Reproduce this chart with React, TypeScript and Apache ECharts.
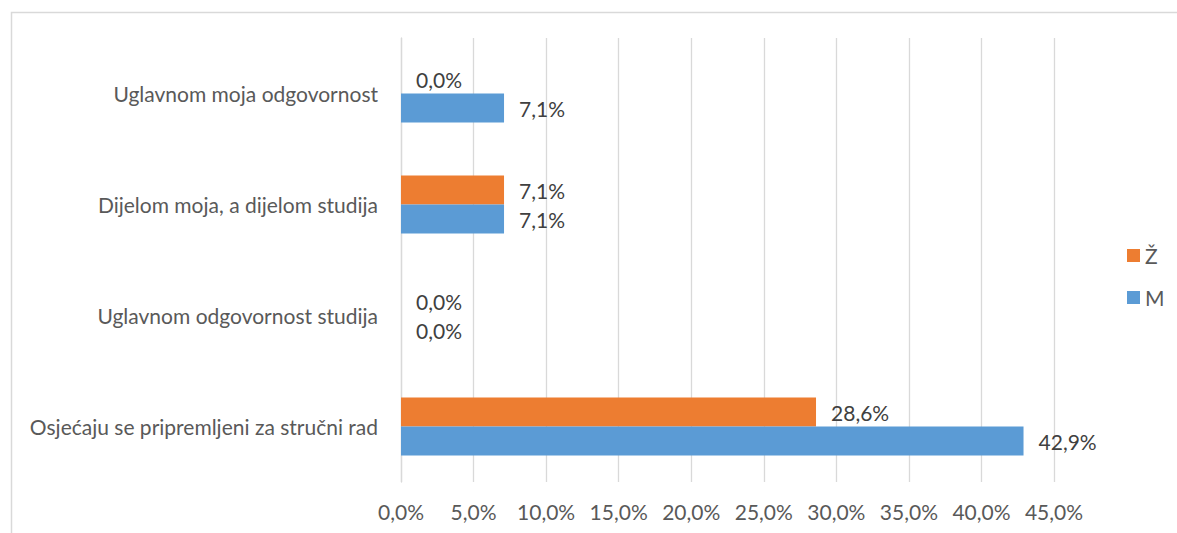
import React, { useEffect, useRef } from "react";
import * as echarts from "echarts";

const categories = [
  "Osjećaju se pripremljeni za stručni rad",
  "Uglavnom odgovornost studija",
  "Dijelom moja, a dijelom studija",
  "Uglavnom moja odgovornost",
];
const seriesNames = ["Ž", "M"];
const valuesZ = [28.6, 0, 7.1, 0];
const valuesM = [42.9, 0, 7.1, 7.1];

const FONT = "Lato";
const FS = 21;
const fmt = (v: number) => v.toFixed(1).replace(".", ",") + "%";

export default function App() {
  const ref = useRef<HTMLDivElement>(null);
  useEffect(() => {
    if (!ref.current) return;
    const chart = echarts.init(ref.current, null, { renderer: "svg" });
    const labelStyle = {
      show: true,
      position: "right" as const,
      distance: 15,
      color: "#404040",
      fontFamily: FONT,
      fontSize: FS,
      formatter: (p: any) => fmt(p.value),
    };
    chart.setOption({
      animation: false,
      backgroundColor: "#ffffff",
      textStyle: { fontFamily: FONT },
      graphic: [
        {
          type: "rect",
          left: 9,
          top: 10,
          shape: { width: 1200, height: 600 },
          style: { fill: "none", stroke: "#d9d9d9", lineWidth: 1.5 },
        },
      ],
      legend: {
        data: seriesNames,
        orient: "vertical",
        left: 1122,
        top: 240,
        itemWidth: 13,
        itemHeight: 13,
        itemGap: 21,
        icon: "rect",
        textStyle: { color: "#595959", fontFamily: FONT, fontSize: FS },
      },
      grid: { left: 401, right: 123, top: 38, bottom: 51, containLabel: false },
      xAxis: {
        type: "value",
        min: 0,
        max: 45,
        interval: 5,
        axisLine: { show: false },
        axisTick: { show: false },
        splitLine: { lineStyle: { color: "#d9d9d9", width: 1.3 } },
        axisLabel: {
          color: "#595959",
          fontFamily: FONT,
          fontSize: FS,
          margin: 19,
          formatter: (v: number) => fmt(v),
        },
      },
      yAxis: {
        type: "category",
        data: categories,
        axisLine: { show: true, lineStyle: { color: "#d9d9d9", width: 1.3 } },
        axisTick: { show: false },
        axisLabel: { color: "#595959", fontFamily: FONT, fontSize: FS, margin: 23 },
      },
      series: [
        {
          name: seriesNames[0],
          type: "bar",
          data: valuesZ,
          barWidth: 29,
          barGap: "0%",
          itemStyle: { color: "#ED7D31" },
          label: labelStyle,
        },
        {
          name: seriesNames[1],
          type: "bar",
          data: valuesM,
          barWidth: 29,
          barGap: "0%",
          itemStyle: { color: "#5B9BD5" },
          label: labelStyle,
        },
      ],
    });
    return () => chart.dispose();
  }, []);
  return (
    <div
      ref={ref}
      style={{ position: "fixed", left: 0, top: 0, width: 1177, height: 533 }}
    />
  );
}
